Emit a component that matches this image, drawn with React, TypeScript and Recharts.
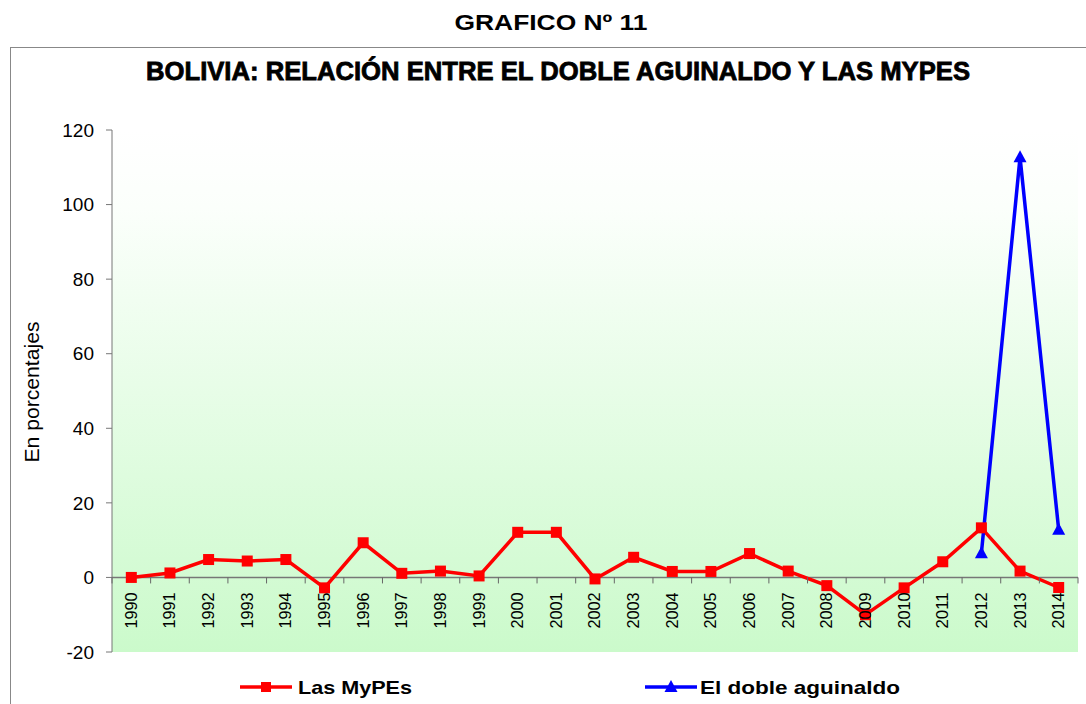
import React from "react";
import {
  LineChart,
  Line,
  XAxis,
  YAxis,
  CartesianGrid,
  ReferenceLine,
} from "recharts";

const years = [
  "1990", "1991", "1992", "1993", "1994", "1995", "1996", "1997", "1998",
  "1999", "2000", "2001", "2002", "2003", "2004", "2005", "2006", "2007",
  "2008", "2009", "2010", "2011", "2012", "2013", "2014",
];

const mypes = [
  0, 1.2, 4.8, 4.4, 4.8, -2.8, 9.3, 1.1, 1.7, 0.4, 12.1, 12.1, -0.4, 5.4, 1.6,
  1.6, 6.4, 1.7, -2.2, -10, -2.8, 4.2, 13.3, 1.7, -2.7,
];

const dobleAguinaldo: (number | null)[] = [
  null, null, null, null, null, null, null, null, null, null, null, null,
  null, null, null, null, null, null, null, null, null, null, 6.5, 112.7, 12.8,
];

const yTicks = [-20, 0, 20, 40, 60, 80, 100, 120];

const data = years.map((year, i) => ({
  year,
  mypes: mypes[i],
  aguinaldo: dobleAguinaldo[i],
}));

// plot geometry
const W = 1086;
const H = 704;
const PLOT_TOP = 130;
const PLOT_BOTTOM = 652;
const PLOT_LEFT = 112;
const PLOT_RIGHT = 1078;
const Y_AXIS_W = 60;
const X_AXIS_H = 20;
const Y_MIN = -20;
const Y_MAX = 120;
const ZERO_Y =
  PLOT_TOP + ((PLOT_BOTTOM - PLOT_TOP) * (Y_MAX - 0)) / (Y_MAX - Y_MIN);
const STEP = (PLOT_RIGHT - PLOT_LEFT) / years.length;

const FONT = "'Liberation Sans', Arial, sans-serif";

function SquareDot(props: any) {
  const { cx, cy, index } = props;
  if (cx == null || cy == null) return <g key={`s${index}`} />;
  return (
    <rect key={`s${index}`} x={cx - 5.5} y={cy - 5.5} width={11} height={11} fill="#FF0000" />
  );
}

function TriangleDot(props: any) {
  const { cx, cy, index, value } = props;
  if (cx == null || cy == null || value == null) return <g key={`t${index}`} />;
  return (
    <path
      key={`t${index}`}
      d={`M${cx},${cy - 7} L${cx + 6.5},${cy + 5} L${cx - 6.5},${cy + 5} Z`}
      fill="#0000FF"
    />
  );
}

// the category axis crosses at y = 0, so labels are drawn at the zero line
function YearTick(props: any) {
  const { x, payload, index } = props;
  const last = index === years.length - 1;
  const ty = ZERO_Y + 15;
  return (
    <g>
      <line x1={x - STEP / 2} y1={ZERO_Y} x2={x - STEP / 2} y2={ZERO_Y + 6} stroke="#666" />
      {last && (
        <line x1={x + STEP / 2} y1={ZERO_Y} x2={x + STEP / 2} y2={ZERO_Y + 6} stroke="#666" />
      )}
      <text
        x={x}
        y={ty}
        transform={`rotate(-90, ${x}, ${ty})`}
        textAnchor="end"
        dominantBaseline="central"
        fontFamily={FONT}
        fontSize={17}
        textLength={36}
        lengthAdjust="spacingAndGlyphs"
        fill="#000"
      >
        {payload.value}
      </text>
    </g>
  );
}

export default function App() {
  return (
    <div
      style={{
        position: "absolute",
        top: 0,
        left: 0,
        width: W,
        height: H,
        overflow: "hidden",
        background: "#fff",
      }}
    >
      <LineChart
        width={W}
        height={H}
        data={data}
        margin={{
          top: PLOT_TOP,
          right: W - PLOT_RIGHT,
          bottom: H - PLOT_BOTTOM - X_AXIS_H,
          left: PLOT_LEFT - Y_AXIS_W,
        }}
      >
        <defs>
          <linearGradient id="plotBg" x1="0" y1="0" x2="0" y2="1">
            <stop offset="0%" stopColor="#ffffff" />
            <stop offset="15%" stopColor="#fbfffb" />
            <stop offset="100%" stopColor="#cbfacb" />
          </linearGradient>
        </defs>
        <CartesianGrid horizontal={false} vertical={false} fill="url(#plotBg)" />
        <XAxis
          dataKey="year"
          height={X_AXIS_H}
          axisLine={false}
          tickLine={false}
          interval={0}
          padding={{ left: STEP / 2, right: STEP / 2 }}
          tick={(p: any) => <YearTick {...p} />}
        />
        <YAxis
          width={Y_AXIS_W}
          domain={[Y_MIN, Y_MAX]}
          ticks={yTicks}
          allowDataOverflow
          axisLine={{ stroke: "#777" }}
          tickLine={{ stroke: "#777" }}
          tickSize={6}
          tickMargin={12}
          tick={{ fill: "#000", fontSize: 19, fontFamily: FONT }}
        />
        <ReferenceLine y={0} stroke="#777" strokeWidth={1.5} />
        <Line
          dataKey="mypes"
          stroke="#FF0000"
          strokeWidth={3.5}
          dot={<SquareDot />}
          activeDot={false}
          isAnimationActive={false}
        />
        <Line
          dataKey="aguinaldo"
          stroke="#0000FF"
          strokeWidth={3.5}
          dot={<TriangleDot />}
          activeDot={false}
          connectNulls={false}
          isAnimationActive={false}
        />
      </LineChart>

      <svg
        width={W}
        height={H}
        style={{ position: "absolute", top: 0, left: 0, pointerEvents: "none" }}
      >
        <rect x={10.5} y={47.5} width={1100} height={700} fill="none" stroke="#888" />
        <text
          x={551}
          y={30}
          textAnchor="middle"
          fontFamily={FONT}
          fontWeight="bold"
          fontSize={22}
          textLength={193}
          lengthAdjust="spacingAndGlyphs"
        >
          GRAFICO Nº 11
        </text>
        <text
          x={558}
          y={80}
          textAnchor="middle"
          fontFamily={FONT}
          fontWeight="bold"
          fontSize={26}
          stroke="#000"
          strokeWidth={0.8}
          textLength={824}
          lengthAdjust="spacingAndGlyphs"
        >
          BOLIVIA: RELACIÓN ENTRE EL DOBLE AGUINALDO Y LAS MYPES
        </text>
        <text
          x={39}
          y={392}
          transform="rotate(-90, 39, 392)"
          textAnchor="middle"
          fontFamily={FONT}
          fontSize={20}
          textLength={141}
          lengthAdjust="spacingAndGlyphs"
        >
          En porcentajes
        </text>

        {/* legend */}
        <line x1={240} y1={687} x2={292} y2={687} stroke="#FF0000" strokeWidth={3.5} />
        <rect x={261} y={682} width={10} height={10} fill="#FF0000" />
        <text
          x={298}
          y={694}
          fontFamily={FONT}
          fontWeight="bold"
          fontSize={19}
          textLength={114}
          lengthAdjust="spacingAndGlyphs"
        >
          Las MyPEs
        </text>
        <line x1={645} y1={687} x2={697} y2={687} stroke="#0000FF" strokeWidth={3.5} />
        <path d="M671,680 L677.5,692 L664.5,692 Z" fill="#0000FF" />
        <text
          x={700}
          y={694}
          fontFamily={FONT}
          fontWeight="bold"
          fontSize={19}
          textLength={200}
          lengthAdjust="spacingAndGlyphs"
        >
          El doble aguinaldo
        </text>
      </svg>
    </div>
  );
}
